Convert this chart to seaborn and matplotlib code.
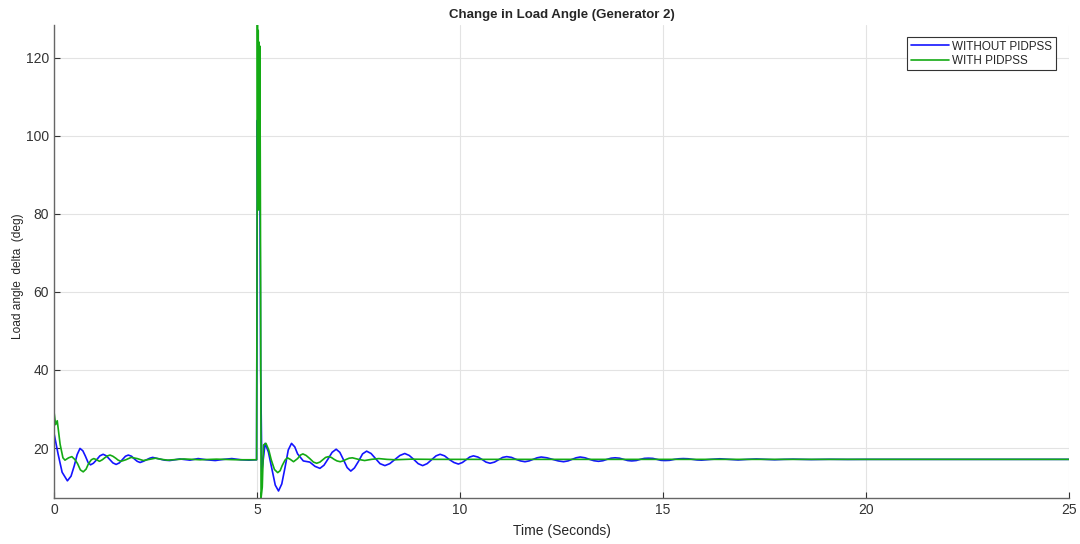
import numpy as np
import pandas as pd
import matplotlib
matplotlib.use("Agg")
import matplotlib.pyplot as plt
import seaborn as sns

# ---- data: (time s, load angle deg) ----
blue_points = [
    (0, 23.8), (0.1, 18.5), (0.2, 13.8), (0.33, 11.6), (0.42, 12.8), (0.5, 15.5), (0.57, 18.3),
    (0.64, 19.9), (0.71, 19.3), (0.77, 18.0), (0.84, 16.3), (0.90, 15.7), (0.97, 16.1), (1.05, 17.0),
    (1.13, 18.0), (1.21, 18.4), (1.29, 18.0), (1.37, 17.1), (1.45, 16.2), (1.53, 15.8), (1.61, 16.2),
    (1.68, 17.0), (1.76, 17.9), (1.83, 18.2), (1.91, 17.9), (1.98, 17.2), (2.05, 16.6), (2.12, 16.3),
    (2.2, 16.6), (2.28, 17.0), (2.36, 17.4), (2.43, 17.6), (2.52, 17.4), (2.6, 17.2), (2.72, 16.9),
    (2.85, 16.8), (3.1, 17.2), (3.35, 16.9), (3.55, 17.3), (3.75, 17.0), (3.97, 16.8), (4.18, 17.1),
    (4.38, 17.3), (4.6, 17.0), (4.8, 16.9), (4.99, 17.0),
    (5.0, 60.0), (5.01, 104.0), (5.02, 85.0), (5.03, 100.0), (5.05, 82.0), (5.07, 95.0), (5.09, 40.0),
    (5.12, 14.0), (5.2, 21.2), (5.28, 19.0), (5.36, 15.0), (5.45, 10.5), (5.53, 9.0), (5.61, 10.8),
    (5.69, 15.0), (5.77, 19.5), (5.85, 21.2), (5.93, 20.3), (6.0, 18.5), (6.14, 16.7), (6.3, 16.4),
    (6.43, 15.3), (6.55, 14.8), (6.65, 15.6), (6.75, 17.2), (6.85, 18.9), (6.95, 19.7), (7.04, 18.9),
    (7.13, 17.0), (7.22, 15.0), (7.31, 14.1), (7.4, 14.9), (7.5, 16.6), (7.6, 18.5), (7.70, 19.2),
    (7.81, 18.6), (7.92, 17.3), (8.03, 16.0), (8.15, 15.5), (8.27, 16.0), (8.4, 17.1), (8.52, 18.1),
    (8.64, 18.6), (8.75, 18.1), (8.86, 17.1), (8.97, 16.0), (9.08, 15.5), (9.19, 16.0), (9.3, 17.0),
    (9.41, 18.0), (9.51, 18.4), (9.62, 18.0), (9.73, 17.1), (9.85, 16.3), (9.96, 15.9), (10.06, 16.3),
    (10.15, 17.0), (10.24, 17.7), (10.33, 18.0), (10.44, 17.7), (10.54, 17.1), (10.64, 16.4),
    (10.74, 16.1), (10.85, 16.4), (10.95, 17.0), (11.05, 17.6), (11.15, 17.8), (11.27, 17.6),
    (11.38, 17.1), (11.49, 16.7), (11.6, 16.5), (11.7, 16.7), (11.8, 17.1), (11.9, 17.5), (12.0, 17.7),
    (12.14, 17.5), (12.28, 17.1), (12.42, 16.7), (12.55, 16.5), (12.66, 16.7), (12.76, 17.1),
    (12.86, 17.5), (12.96, 17.7), (13.08, 17.5), (13.19, 17.1), (13.3, 16.75), (13.41, 16.6),
    (13.52, 16.75), (13.62, 17.1), (13.72, 17.4), (13.82, 17.5), (13.93, 17.4), (14.03, 17.1),
    (14.13, 16.8), (14.23, 16.7), (14.34, 16.8), (14.44, 17.1), (14.54, 17.35), (14.64, 17.4),
    (14.75, 17.35), (14.85, 17.1), (14.95, 16.85), (15.05, 16.8), (15.16, 16.85), (15.28, 17.1),
    (15.39, 17.25), (15.5, 17.3), (15.62, 17.25), (15.73, 17.1), (15.84, 16.95), (15.95, 16.9),
    (16.18, 17.1), (16.4, 17.25), (16.62, 17.1), (16.85, 16.95), (17.08, 17.1), (17.3, 17.2),
    (17.52, 17.1), (17.75, 17.0), (17.98, 17.1), (18.2, 17.15), (18.65, 17.05), (19.1, 17.12),
    (19.55, 17.08), (20.0, 17.1), (25.0, 17.1),
]

green_points = [
    (0, 29.3), (0.04, 26.0), (0.08, 27.0), (0.15, 21.0), (0.22, 17.5), (0.27, 16.9), (0.36, 17.5),
    (0.44, 17.8), (0.52, 17.0), (0.58, 16.0), (0.65, 14.4), (0.72, 13.9), (0.79, 14.6), (0.85, 16.0),
    (0.92, 17.0), (0.98, 17.3), (1.05, 17.0), (1.12, 16.6), (1.19, 17.0), (1.25, 17.5), (1.32, 18.0),
    (1.38, 18.2), (1.45, 17.9), (1.52, 17.4), (1.58, 16.9), (1.65, 16.6), (1.77, 17.0), (1.9, 17.6),
    (2.05, 17.3), (2.2, 16.8), (2.35, 17.1), (2.5, 17.4), (2.65, 17.1), (2.8, 16.9), (3.2, 17.2),
    (3.6, 17.0), (4.0, 17.15), (4.5, 17.0), (4.99, 17.0),
    (5.005, 90.0), (5.01, 128.8), (5.02, 84.0), (5.03, 127.0), (5.04, 81.0), (5.05, 124.0),
    (5.06, 82.0), (5.07, 123.0), (5.08, 95.0), (5.09, 60.0), (5.10, 7.2), (5.13, 10.0),
    (5.16, 20.8), (5.22, 21.2), (5.29, 19.5), (5.35, 17.0), (5.43, 14.5), (5.51, 13.7), (5.57, 14.2),
    (5.62, 15.5), (5.69, 16.9), (5.75, 17.5), (5.82, 17.1), (5.9, 16.5), (6.0, 17.3), (6.07, 18.2),
    (6.13, 18.5), (6.21, 18.1), (6.3, 17.3), (6.39, 16.4), (6.47, 16.1), (6.55, 16.4), (6.62, 17.0),
    (6.69, 17.6), (6.76, 17.8), (6.83, 17.6), (6.9, 17.1), (6.97, 16.7), (7.05, 16.5), (7.12, 16.7),
    (7.2, 17.1), (7.27, 17.4), (7.35, 17.5), (7.5, 17.1), (7.65, 16.8), (7.82, 17.1), (8.0, 17.3),
    (8.2, 17.1), (8.4, 17.0), (8.8, 17.15), (9.3, 17.1), (25.0, 17.1),
]

series_names = ["WITHOUT PIDPSS", "WITH PIDPSS"]
series_colors = ["#1414ff", "#14aa14"]
x_ticks = [0, 5, 10, 15, 20, 25]
y_ticks = [20, 40, 60, 80, 100, 120]

blue_t, blue_v = zip(*blue_points)
green_t, green_v = zip(*green_points)

df = pd.concat([
    pd.DataFrame({"t": blue_t, "v": blue_v, "s": series_names[0]}),
    pd.DataFrame({"t": green_t, "v": green_v, "s": series_names[1]}),
], ignore_index=True)

sns.set_theme(style="white")
plt.rcParams["font.family"] = ["Liberation Sans", "DejaVu Sans"]

fig = plt.figure(figsize=(10.8, 5.44), dpi=100)
ax = fig.add_axes([54 / 1080, 1 - 498 / 544, (1069 - 54) / 1080, (498 - 25) / 544])

sns.lineplot(data=df, x="t", y="v", hue="s", palette=dict(zip(series_names, series_colors)),
             estimator=None, sort=False, linewidth=1.2, ax=ax)

ax.set_xlim(0, 25)
ax.set_ylim(7.2, 128.4)
ax.set_xticks(x_ticks)
ax.set_yticks(y_ticks)
ax.grid(True, color="#e3e3e3", linewidth=0.8)
ax.set_axisbelow(True)
for side in ["top", "right"]:
    ax.spines[side].set_visible(False)
for side in ["left", "bottom"]:
    ax.spines[side].set_color("#666666")
    ax.spines[side].set_linewidth(1.0)
ax.tick_params(direction="in", length=4, width=0.8, color="#333333", labelcolor="#333333",
               labelsize=10, left=True, bottom=True, pad=3.5)

ax.set_title("Change in Load Angle (Generator 2)", fontsize=9.5, fontweight="bold", pad=5)
ax.set_xlabel("Time (Seconds)", fontsize=10, color="#262626", labelpad=5)
ax.set_ylabel("Load angle  delta  (deg)", fontsize=8.6, color="#262626")
ax.yaxis.set_label_coords((24 - 54) / 1015, (498 - 276) / 473)

leg = ax.legend(loc="upper right", bbox_to_anchor=((1056 - 54) / 1015, 1 - (37 - 25) / 473),
                borderaxespad=0, fontsize=8.4, handlelength=3.3, handletextpad=0.3,
                frameon=True, fancybox=False, framealpha=1, borderpad=0.3, labelspacing=0.2)
leg.get_frame().set_edgecolor("#333333")
leg.get_frame().set_linewidth(0.8)
for line in leg.get_lines():
    line.set_linewidth(1.2)

fig.savefig("out.png", dpi=100)
